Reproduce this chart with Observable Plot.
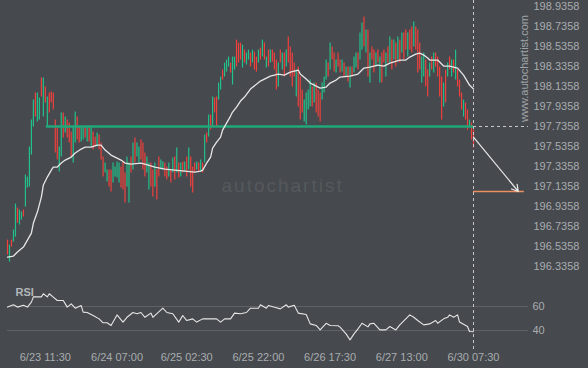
<!DOCTYPE html>
<html><head><meta charset="utf-8">
<script src="https://cdn.jsdelivr.net/npm/d3@7"></script>
<script src="https://cdn.jsdelivr.net/npm/@observablehq/plot@0.6"></script>
<style>
html,body{margin:0;padding:0;background:#46494d;overflow:hidden;}
#chart{width:588px;height:368px;overflow:hidden;background:#46494d;}
#chart svg{display:block;max-width:none;}
</style></head><body><div id="chart"></div>
<script>
// 30-minute candles (open, close), USD/JPY-like pair
const open = [196.60,196.38,196.60,196.58,196.63,196.92,196.75,196.80,196.90,196.93,197.12,197.13,197.45,197.73,198.07,197.78,197.80,198.22,197.83,198.13,197.73,198.07,198.08,198.07,197.80,197.73,197.28,197.43,197.87,197.67,197.80,197.77,197.68,197.37,197.57,197.83,197.73,197.58,197.60,197.73,197.58,197.72,197.53,197.68,197.63,197.53,197.65,197.57,197.43,197.27,197.18,197.30,197.30,197.17,197.23,197.22,197.17,197.33,197.38,197.27,197.13,196.97,197.43,197.30,197.62,197.43,197.37,197.60,197.57,197.47,197.27,197.10,197.37,197.30,197.13,197.30,197.43,197.30,197.30,197.37,197.33,197.23,197.30,197.27,197.43,197.27,197.37,197.23,197.38,197.28,197.43,197.30,197.43,197.33,197.37,197.30,197.37,197.28,197.37,197.37,197.67,197.63,197.85,197.73,198.02,198.03,198.00,198.10,198.30,198.23,198.28,198.33,198.37,198.15,198.30,198.60,198.57,198.57,198.32,198.50,198.35,198.40,198.47,198.37,198.48,198.43,198.37,198.52,198.43,198.57,198.32,198.50,198.37,198.50,198.47,198.40,198.13,198.50,198.30,198.47,198.33,198.63,198.53,198.47,198.37,198.03,198.33,198.23,198.10,197.78,197.75,197.90,197.93,198.13,197.97,198.17,198.10,198.07,198.00,198.07,198.20,198.37,198.30,198.53,198.47,198.27,198.47,198.40,198.28,198.37,198.23,198.33,198.12,198.33,198.27,198.32,198.47,198.40,198.50,198.83,198.47,198.70,198.17,198.53,198.50,198.33,198.50,198.17,198.47,198.50,198.23,198.53,198.37,198.60,198.40,198.57,198.40,198.60,198.47,198.67,198.70,198.43,198.70,198.73,198.53,198.73,198.70,198.57,198.17,198.23,198.40,198.30,198.23,198.43,198.27,198.47,198.43,198.33,198.23,197.93,198.30,198.23,198.43,198.23,198.40,198.20,198.30,198.20,198.07,197.83,197.97,197.90,197.73,197.77,197.70];
const close = [196.45,196.55,196.53,196.70,196.96,196.77,196.90,196.88,196.83,197.25,197.23,197.53,197.80,198.00,197.83,198.07,198.02,198.03,198.22,197.97,198.03,197.87,197.97,197.90,197.47,197.40,197.53,197.87,197.62,197.83,197.62,197.57,197.43,197.73,197.88,197.60,197.57,197.73,197.72,197.62,197.73,197.58,197.73,197.50,197.53,197.67,197.50,197.40,197.23,197.37,197.30,197.13,197.08,197.37,197.33,197.38,197.37,197.12,197.10,196.97,197.43,197.37,197.27,197.57,197.37,197.57,197.53,197.40,197.30,197.23,197.43,197.37,197.13,197.03,197.37,197.00,197.23,197.40,197.38,197.23,197.20,197.37,197.17,197.42,197.20,197.52,197.22,197.37,197.27,197.38,197.23,197.52,197.13,197.07,197.27,197.38,197.28,197.40,197.27,197.65,197.57,197.85,197.70,198.03,197.87,197.73,198.17,198.23,198.20,198.37,198.40,198.43,198.27,198.43,198.43,198.33,198.37,198.40,198.55,198.37,198.47,198.50,198.33,198.50,198.30,198.28,198.50,198.40,198.60,198.40,198.43,198.33,198.50,198.38,198.30,198.10,198.37,198.37,198.47,198.23,198.50,198.37,198.23,198.13,198.23,198.30,197.93,197.80,197.87,198.00,198.07,198.10,198.20,197.93,198.17,197.87,197.83,197.78,198.17,198.23,198.40,198.23,198.57,198.40,198.28,198.40,198.33,198.27,198.40,198.23,198.33,198.18,198.33,198.23,198.43,198.47,198.30,198.67,198.77,198.53,198.70,198.23,198.47,198.40,198.27,198.47,198.37,198.43,198.17,198.37,198.47,198.37,198.63,198.30,198.60,198.33,198.63,198.37,198.67,198.40,198.50,198.67,198.50,198.47,198.78,198.50,198.27,198.30,198.43,198.47,198.13,198.03,198.37,198.30,198.47,198.33,198.23,198.03,197.80,198.17,197.97,198.37,198.30,198.40,198.27,198.50,198.13,198.03,197.90,198.00,197.80,197.70,197.80,197.60,197.52];

// moving average (read at selected candle indices)
const maIdx = [0,3,5,8,10,12,13,15,17,18,20,22,23,25,27,29,32,34,37,39,42,45,47,49,52,54,57,59,62,67,69,74,79,84,89,94,97,98,100,102,103,105,107,108,110,112,113,115,117,119,122,127,132,136,139,142,146,147,150,152,157,160,162,165,167,172,176,179,182,186,189,192,197,200,202,205,207,209,211,212,216,219,222,226,229,232,234];
const maVal = [196.43,196.44,196.48,196.53,196.60,196.67,196.77,196.88,197.03,197.15,197.23,197.30,197.33,197.33,197.37,197.40,197.43,197.47,197.51,197.53,197.53,197.55,197.55,197.50,197.45,197.43,197.40,197.37,197.36,197.37,197.36,197.33,197.31,197.30,197.29,197.28,197.29,197.30,197.37,197.43,197.52,197.58,197.63,197.70,197.77,197.84,197.88,197.93,197.99,198.03,198.11,198.19,198.24,198.26,198.25,198.28,198.30,198.26,198.21,198.17,198.12,198.13,198.17,198.20,198.23,198.24,198.26,198.32,198.33,198.35,198.34,198.37,198.40,198.40,198.43,198.46,198.47,198.45,198.42,198.40,198.40,198.34,198.34,198.32,198.25,198.15,198.11];

// RSI
const rsiIdx = [0,3,5,8,10,12,13,17,18,20,21,23,25,28,30,32,34,37,38,40,43,46,48,50,52,55,58,60,63,65,67,69,72,73,75,78,80,83,86,88,90,93,95,98,105,107,109,112,114,117,120,122,126,127,130,131,135,137,140,141,144,146,150,152,155,157,160,162,166,167,170,172,174,176,178,181,182,184,187,190,192,195,197,200,202,204,206,209,212,215,216,219,221,222,224,226,227,231,232,234];
const rsiVal = [59.5,61.4,59.5,61,59.5,63.6,68,68,70.6,68,70.6,67.8,65,65,59.5,62.2,58.6,60.8,55.3,55,52.5,49.7,46.4,46.5,44.2,53,47,51,55,54,55,51,54.5,51,54,58.6,55,54,47,52.5,48.3,49.7,47,49.7,49.7,47,49.7,49.7,54.5,54,55,58.6,58.6,61.4,58.6,60.8,59,58,61.4,59.5,61,54.5,53.3,45.5,44.2,40.5,46,44.2,44,42.8,37.2,32.2,37.2,41.4,46,43,45.5,46,40.5,40.5,43.3,40.5,44.7,49.7,53,51,48.3,44.7,45.5,48.3,46,49.7,51,53,51,53,47,43.3,39.2,39];

const priceTicks = [196.3358,196.5358,196.7358,196.9358,197.1358,197.3358,197.5358,197.7358,197.9358,198.1358,198.3358,198.5358,198.7358,198.9358];
const rsiTicks = [40, 60];
const timeTickIdx = [19, 55, 90, 126, 162, 198, 234];
const timeTickLabels = ["6/23 11:30","6/24 07:00","6/25 02:30","6/25 22:00","6/26 17:30","6/27 13:00","6/30 07:30"];

const levelPrice = 197.7358;   // resistance/support line
const levelStart = 19.5;
const lastIdx = 234;
const arrowFrom = 197.63;
const targetPrice = 197.0858;
const arrowEndIdx = 256.5;
const targetEndIdx = 259.5;
const rightEdgeIdx = 261.6;

const candles = open.map((o, i) => ({i, o, c: close[i]}));
const ma = maIdx.map((i, k) => ({i, v: maVal[k]}));
const rsi = rsiIdx.map((i, k) => ({i, v: rsiVal[k]}));

const BG = "#46494d", TXT = "#a8acb0";
const font = "'Liberation Sans', Arial, sans-serif";
const xScale = {domain: [0, lastIdx], range: [7, 473], axis: null};

const main = Plot.plot({
  width: 588, height: 280,
  marginLeft: 7, marginRight: 60, marginTop: 0, marginBottom: 0,
  style: {background: BG, color: TXT, fontFamily: font, fontSize: "11px", overflow: "visible"},
  x: xScale,
  y: {domain: [196.3358, 198.9358], range: [266, 6], axis: null},
  marks: [
    Plot.text(["autochartist"], {frameAnchor: "top-left", dx: 214, dy: 185, textAnchor: "start", lineAnchor: "middle", fill: "#55595d", fontSize: 19, className: "wm"}),
    Plot.ruleX(candles, {x: "i", y1: "o", y2: "c", stroke: d => d.c >= d.o ? "#22c08a" : "#f0413d", strokeWidth: 1.2}),
    Plot.ruleY([levelPrice], {x1: levelStart, x2: lastIdx, stroke: "#21a97a", strokeWidth: 2.5}),
    Plot.lineY(ma, {x: "i", y: "v", stroke: "#e6e6e6", strokeWidth: 1.3}),
    Plot.ruleY([levelPrice], {x1: lastIdx, x2: rightEdgeIdx, stroke: "#c8c8c8", strokeDasharray: "3,3"}),
    Plot.ruleX([lastIdx], {stroke: "#c8c8c8", strokeDasharray: "3,3"}),
    Plot.ruleY([targetPrice], {x1: lastIdx, x2: targetEndIdx, stroke: "#ec8f62", strokeWidth: 1.5}),
    Plot.arrow([0], {x1: lastIdx, y1: arrowFrom, x2: arrowEndIdx, y2: targetPrice, stroke: "#e8e8e8", strokeWidth: 1.2, headLength: 9, bend: 0}),
    Plot.axisY({anchor: "right", label: null, ticks: priceTicks, tickFormat: d => d.toFixed(4), tickSize: 0, tickPadding: 5, fill: TXT, fontSize: 11}),
    Plot.text(["www.autochartist.com"], {frameAnchor: "top-right", textAnchor: "middle", lineAnchor: "middle", rotate: -90, dx: -4, dy: 68, fill: "#a0a4a8", fontSize: 11})
  ]
});
d3.select(main).selectAll("g.wm text").attr("letter-spacing", "2px");

const rsiPlot = Plot.plot({
  width: 588, height: 88,
  marginLeft: 7, marginRight: 60, marginTop: 0, marginBottom: 18,
  style: {background: BG, color: TXT, fontFamily: font, fontSize: "11px", overflow: "visible"},
  x: xScale,
  y: {domain: [40, 60], range: [50, 26], axis: null},
  marks: [
    Plot.ruleY(rsiTicks, {stroke: "#5e6266"}),
    Plot.axisY({anchor: "right", label: null, ticks: rsiTicks, tickSize: 0, tickPadding: 4, fill: TXT, fontSize: 11}),
    Plot.lineY(rsi, {x: "i", y: "v", stroke: "#e6e6e6", strokeWidth: 1.1}),
    Plot.ruleX([lastIdx], {stroke: "#c8c8c8", strokeDasharray: "3,3"}),
    Plot.text(["RSI"], {frameAnchor: "top-left", dx: 8, dy: 12, textAnchor: "start", lineAnchor: "middle", fontWeight: "bold", fill: "#b3b7bb", fontSize: 11}),
    Plot.axisX({label: null, ticks: timeTickIdx, tickFormat: d => timeTickLabels[timeTickIdx.indexOf(d)], tickSize: 0, tickPadding: 3, fill: TXT, fontSize: 11})
  ]
});

document.getElementById("chart").append(main, rsiPlot);
</script></body></html>
